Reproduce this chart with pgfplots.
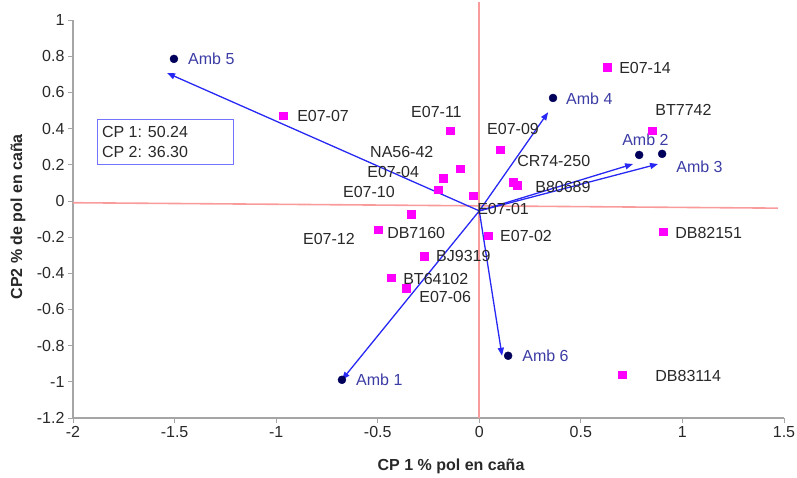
\documentclass[border=0pt]{standalone}
\usepackage{fontspec}
\setmainfont{Liberation Sans}
\usepackage{pgfplots}
\pgfplotsset{compat=1.18}
\usetikzlibrary{arrows.meta}
\definecolor{pinkline}{RGB}{250,155,155}
\definecolor{vecblue}{RGB}{40,40,245}
\definecolor{dotnavy}{RGB}{0,0,90}
\definecolor{amblabel}{RGB}{60,60,165}
\definecolor{axgray}{RGB}{165,165,165}
\definecolor{txt}{RGB}{40,40,40}
\definecolor{sqmag}{RGB}{255,0,255}
\begin{document}
\begin{tikzpicture}
\begin{axis}[
  at={(73pt,59pt)}, anchor=south west,
  scale only axis, width=711pt, height=398pt,
  xmin=-2, xmax=1.5, ymin=-1.2, ymax=1,
  axis x line*=bottom, axis y line*=left,
  axis line style={-, axgray, line width=1.8pt},
  xtick={-2,-1.5,-1,-0.5,0,0.5,1,1.5},
  ytick={-1.2,-1,-0.8,-0.6,-0.4,-0.2,0,0.2,0.4,0.6,0.8,1},
  tick align=outside, major tick length=5pt,
  tick style={axgray, line width=0.8pt},
  ticklabel style={font=\fontsize{16}{19}\selectfont, text=txt},
  /pgf/number format/assume math mode=true,
  clip=false,
]
% reference lines
\addplot[pinkline, line width=1.6pt] coordinates {(-2,-0.01) (1.47,-0.04)};
\addplot[pinkline, line width=1.6pt] coordinates {(0,1.1) (0,-1.2)};
% vectors
\addplot[vecblue, line width=1.3pt, -{Triangle[length=8pt,width=6pt]}] coordinates {(0,-0.055) (-1.537,0.707)};
\addplot[vecblue, line width=1.3pt, -{Triangle[length=8pt,width=6pt]}] coordinates {(0,-0.055) (0.339,0.49)};
\addplot[vecblue, line width=1.3pt, -{Triangle[length=8pt,width=6pt]}] coordinates {(0,-0.055) (0.757,0.204)};
\addplot[vecblue, line width=1.3pt, -{Triangle[length=8pt,width=6pt]}] coordinates {(0,-0.055) (0.880,0.204)};
\addplot[vecblue, line width=1.3pt, -{Triangle[length=8pt,width=6pt]}] coordinates {(0,-0.055) (0.112,-0.856)};
\addplot[vecblue, line width=1.3pt, -{Triangle[length=8pt,width=6pt]}] coordinates {(0,-0.055) (-0.676,-0.989)};
% environment dots
\addplot[only marks, mark=*, mark size=4pt, mark options={fill=dotnavy, draw=dotnavy}] coordinates {
 (-1.503,0.785) (0.363,0.569) (0.787,0.254) (0.90,0.26) (0.142,-0.856) (-0.676,-0.989)};
% genotypes
\addplot[only marks, mark=square*, mark size=3.8pt, mark options={fill=sqmag, draw=sqmag}] coordinates {
 (0.629,0.740) (0.851,0.387) (-0.144,0.387) (0.102,0.282) (-0.095,0.177)
 (-0.178,0.127) (-0.203,0.061) (-0.031,0.028) (0.167,0.105) (0.186,0.088)
 (0.905,-0.171) (0.043,-0.193) (-0.336,-0.072) (-0.498,-0.160) (-0.272,-0.304)
 (-0.434,-0.425) (-0.360,-0.481) (0.703,-0.961) (-0.966,0.470)};
% labels
\begin{scope}[every node/.style={anchor=west, inner sep=0pt, font=\fontsize{16}{19}\selectfont, text=txt}]
\node at (axis cs:-0.897,0.470) {E07-07};
\node at (axis cs:-0.336,0.492) {E07-11};
\node at (axis cs:0.038,0.398) {E07-09};
\node at (axis cs:-0.538,0.271) {NA56-42};
\node at (axis cs:-0.552,0.160) {E07-04};
\node at (axis cs:-0.671,0.050) {E07-10};
\node at (axis cs:0.186,0.221) {CR74-250};
\node at (axis cs:0.275,0.077) {B80689};
\node at (axis cs:-0.011,-0.044) {E07-01};
\node at (axis cs:0.102,-0.193) {E07-02};
\node at (axis cs:-0.868,-0.210) {E07-12};
\node at (axis cs:-0.454,-0.177) {DB7160};
\node at (axis cs:-0.213,-0.304) {BJ9319};
\node at (axis cs:-0.375,-0.431) {BT64102};
\node at (axis cs:-0.296,-0.530) {E07-06};
\node at (axis cs:0.688,0.735) {E07-14};
\node at (axis cs:0.866,0.503) {BT7742};
\node at (axis cs:0.964,-0.177) {DB82151};
\node at (axis cs:0.866,-0.967) {DB83114};
\end{scope}
\begin{scope}[every node/.style={anchor=west, inner sep=0pt, font=\fontsize{16}{19}\selectfont, text=amblabel}]
\node at (axis cs:-1.434,0.785) {Amb 5};
\node at (axis cs:0.427,0.564) {Amb 4};
\node at (axis cs:0.703,0.337) {Amb 2};
\node at (axis cs:0.969,0.188) {Amb 3};
\node at (axis cs:0.211,-0.856) {Amb 6};
\node at (axis cs:-0.607,-0.989) {Amb 1};
\end{scope}
% info box
\draw[blue!55, line width=0.8pt, fill=white] (axis cs:-1.882,0.448) rectangle (axis cs:-1.212,0.204);
\node[anchor=west, align=left, inner sep=0pt, font=\fontsize{16}{20}\selectfont, text=txt] at (axis cs:-1.858,0.326) {CP 1: 50.24\\CP 2: 36.30};
% axis titles
\node[font=\bfseries\fontsize{16}{19}\selectfont, text=txt] at (axis cs:-0.139,-1.470) {CP 1 \% pol en caña};
\node[font=\bfseries\fontsize{16}{19}\selectfont, text=txt, rotate=90] at (axis cs:-2.271,-0.088) {CP2 \% de pol en caña};
\end{axis}
\pgfresetboundingbox
\path[use as bounding box] (0,0) rectangle (797pt,477pt);
\end{tikzpicture}
\end{document}
